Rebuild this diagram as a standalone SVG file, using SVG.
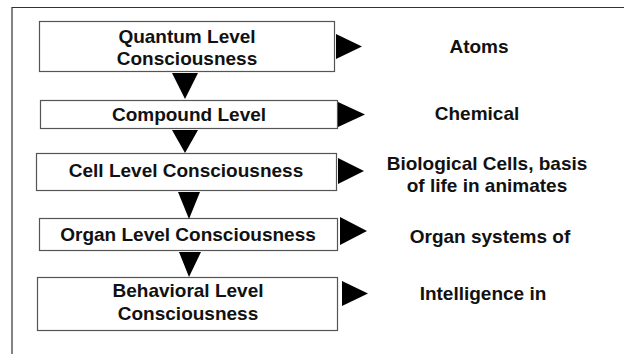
<svg xmlns="http://www.w3.org/2000/svg" width="624" height="354" viewBox="0 0 624 354">
<style>
.box{fill:#fff;stroke:#555;stroke-width:1.2}
.t{font-family:"Liberation Sans",Arial,sans-serif;font-weight:bold;font-size:19px;fill:#111;text-anchor:middle}
.arr{fill:#000}
.frame{stroke:#333;stroke-width:1.2;fill:none}
</style>
<rect width="624" height="354" fill="#fff"/>
<path class="frame" d="M12 354V7.5H624"/>
<g id="n1"><rect class="box" x="39.5" y="21.5" width="295" height="50"/><text class="t" x="187" y="42.5">Quantum Level</text><text class="t" x="187" y="64.5">Consciousness</text></g>
<g id="n2"><rect class="box" x="40.5" y="100.5" width="297" height="28"/><text class="t" x="189" y="120.5">Compound Level</text></g>
<g id="n3"><rect class="box" x="36.5" y="153.5" width="300" height="37"/><text class="t" x="186" y="177">Cell Level Consciousness</text></g>
<g id="n4"><rect class="box" x="39.5" y="218.5" width="298" height="32"/><text class="t" x="188" y="240.5">Organ Level Consciousness</text></g>
<g id="n5"><rect class="box" x="37.5" y="277.5" width="300" height="53"/><text class="t" x="188" y="297">Behavioral Level</text><text class="t" x="188" y="319.5">Consciousness</text></g>
<g id="r1"><text class="t" x="479" y="53">Atoms</text></g>
<g id="r2"><text class="t" x="477" y="120">Chemical</text></g>
<g id="r3"><text class="t" x="487" y="169.5">Biological Cells, basis</text><text class="t" x="487" y="192">of life in animates</text></g>
<g id="r4"><text class="t" x="490" y="242.5">Organ systems of</text></g>
<g id="r5"><text class="t" x="483" y="299.5">Intelligence in</text></g>
<g id="connectors">
<polygon class="arr" points="172,73 198,73 185,99"/>
<polygon class="arr" points="172,130 198,130 185,153"/>
<polygon class="arr" points="178,192 200,192 189,219"/>
<polygon class="arr" points="179,252 201,252 189,277"/>
<polygon class="arr" points="336,34 362,46.5 336,59"/>
<polygon class="arr" points="338,102 365,114.5 338,127"/>
<polygon class="arr" points="338,158 364,171 338,184"/>
<polygon class="arr" points="340,217 367,231 340,245"/>
<polygon class="arr" points="342,281 368,293.5 342,306"/>
</g>
</svg>
